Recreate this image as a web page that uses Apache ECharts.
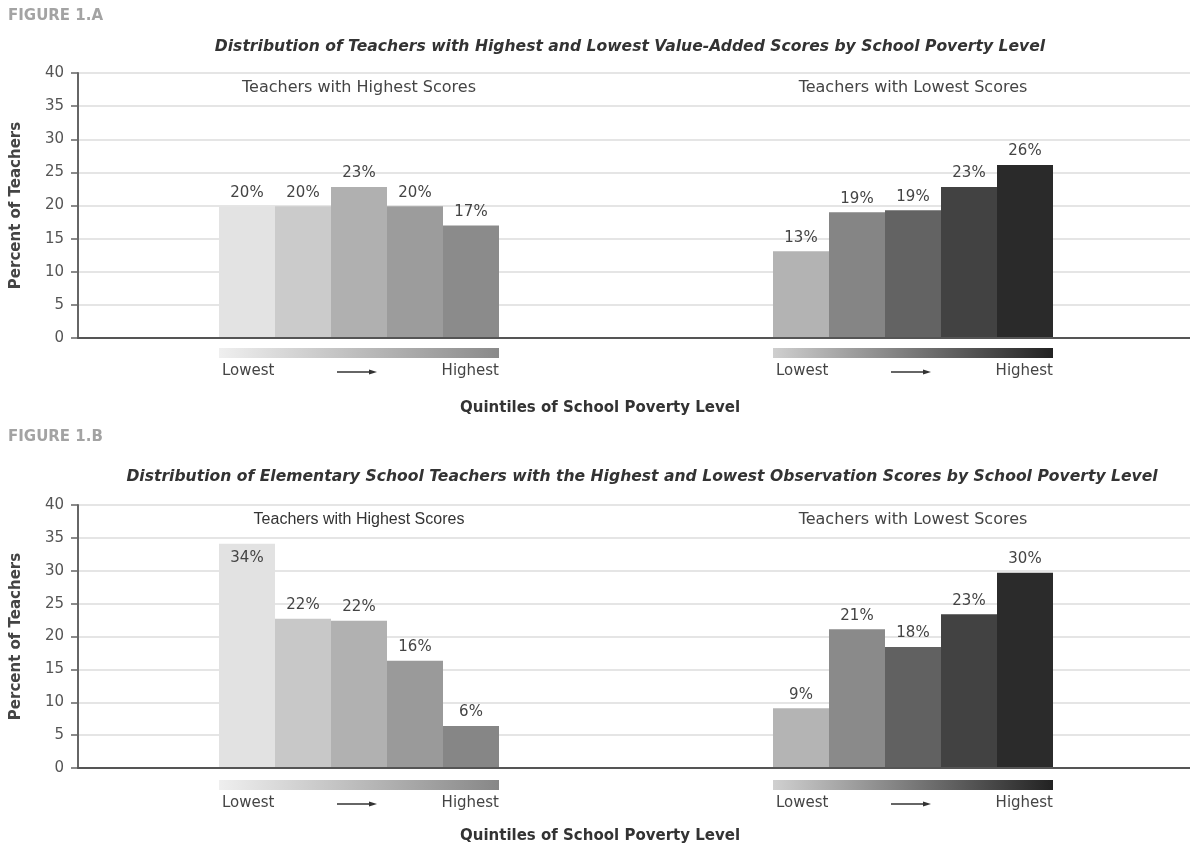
<!DOCTYPE html>
<html>
<head>
<meta charset="utf-8">
<script src="https://cdn.jsdelivr.net/npm/echarts@6/dist/echarts.min.js"></script>
<style>
html,body{margin:0;padding:0;background:#fff;}
#chart{width:1190px;height:846px;}
</style>
</head>
<body>
<div id="chart"></div>
<script>
// ---- data ----
const quintiles = ['Q1 (Lowest)', 'Q2', 'Q3', 'Q4', 'Q5 (Highest)'];
const yTicks = [0, 5, 10, 15, 20, 25, 30, 35, 40];

const aHighValues = [19.9, 19.9, 22.8, 19.9, 17.0];
const aHighLabels = ['20%', '20%', '23%', '20%', '17%'];
const aLowValues = [13.1, 19.0, 19.3, 22.8, 26.1];
const aLowLabels = ['13%', '19%', '19%', '23%', '26%'];

const bHighValues = [34.1, 22.7, 22.4, 16.3, 6.4];
const bHighLabels = ['34%', '22%', '22%', '16%', '6%'];
const bLowValues = [9.1, 21.1, 18.4, 23.4, 29.7];
const bLowLabels = ['9%', '21%', '18%', '23%', '30%'];

const highColorsA = ['#e3e3e3', '#cbcbcb', '#b0b0b0', '#9c9c9c', '#8b8b8b'];
const lowColorsA = ['#b3b3b3', '#858585', '#636363', '#424242', '#2a2a2a'];
const highColorsB = ['#e2e2e2', '#c8c8c8', '#b1b1b1', '#9a9a9a', '#868686'];
const lowColorsB = ['#b4b4b4', '#8a8a8a', '#616161', '#424242', '#2b2b2b'];

// ---- layout ----
const FONT = '"DejaVu Sans", sans-serif';
const AXIS_LEFT = 78;
const HIGH_LEFT = 219, LOW_LEFT = 773, GROUP_W = 280;
const A_TOP = 73, A_H = 265;
const B_TOP = 505, B_H = 263;

const chart = echarts.init(document.getElementById('chart'), null, {renderer: 'canvas'});

function mainY(gridIndex) {
  return {
    gridIndex, type: 'value', min: yTicks[0], max: yTicks[yTicks.length - 1], interval: yTicks[1] - yTicks[0],
    name: 'Percent of Teachers', nameLocation: 'middle', nameGap: 54, nameRotate: 90,
    nameTextStyle: {fontFamily: FONT, fontWeight: 'bold', fontSize: 15, color: '#444'},
    axisLine: {show: true, lineStyle: {color: '#666', width: 2}},
    axisTick: {show: true, length: 7, lineStyle: {color: '#666', width: 1.5}},
    axisLabel: {fontFamily: FONT, fontSize: 15, color: '#555', margin: 14},
    splitLine: {show: true, lineStyle: {color: '#dcdcdc', width: 1.5}}
  };
}
function hiddenY(gridIndex) {
  return {gridIndex, type: 'value', min: 0, max: 40, interval: 5, show: false, splitLine: {show: false}};
}
function mainX(gridIndex) {
  return {
    gridIndex, type: 'category', data: [''],
    axisLine: {show: true, onZero: true, lineStyle: {color: '#555', width: 2}},
    axisTick: {show: false}, axisLabel: {show: false}, splitLine: {show: false}, z: 10
  };
}
function groupX(gridIndex) {
  return {gridIndex, type: 'category', data: quintiles, show: false};
}
function barSeries(axisIndex, values, labels, colors, insideFirst) {
  return {
    type: 'bar', xAxisIndex: axisIndex, yAxisIndex: axisIndex,
    barCategoryGap: '0%', barGap: '0%',
    data: values.map((v, i) => ({
      value: v,
      itemStyle: {color: colors[i]},
      label: (insideFirst && i === 0) ? {position: 'insideTop', distance: 7} : undefined
    })),
    label: {
      show: true, position: 'top', distance: 6,
      fontFamily: FONT, fontSize: 15, color: '#444',
      formatter: p => labels[p.dataIndex]
    },
    emphasis: {disabled: true}
  };
}

function txt(x, y, text, font, fill, align) {
  return {type: 'text', x, y, style: {text, font, fill, align: align || 'left', verticalAlign: 'middle'}};
}

function legendBar(left, y, c0, c1) {
  return [
    {type: 'rect', shape: {x: left, y: y, width: GROUP_W, height: 10},
     style: {fill: new echarts.graphic.LinearGradient(0, 0, 1, 0, [{offset: 0, color: c0}, {offset: 1, color: c1}])}},
    txt(left + 3, y + 23, 'Lowest', '15px ' + FONT, '#444', 'left'),
    txt(left + GROUP_W, y + 23, 'Highest', '15px ' + FONT, '#444', 'right'),
    {type: 'line', shape: {x1: left + 118, y1: y + 24, x2: left + 151, y2: y + 24}, style: {stroke: '#333', lineWidth: 1.3}},
    {type: 'polygon', shape: {points: [[left + 150, y + 21.5], [left + 158, y + 24], [left + 150, y + 26.5]]}, style: {fill: '#333'}}
  ];
}

const graphics = [].concat(
  legendBar(HIGH_LEFT, 348, '#efefef', '#8a8a8a'),
  legendBar(LOW_LEFT, 348, '#cfcfcf', '#222222'),
  legendBar(HIGH_LEFT, 780, '#efefef', '#878787'),
  legendBar(LOW_LEFT, 780, '#d0d0d0', '#222222'),
  [
    txt(8, 16, 'FIGURE 1.A', 'bold 15px ' + FONT, '#a3a3a3', 'left'),
    txt(630, 47, 'Distribution of Teachers with Highest and Lowest Value-Added Scores by School Poverty Level', 'italic bold 15.6px ' + FONT, '#333', 'center'),
    txt(8, 437, 'FIGURE 1.B', 'bold 15px ' + FONT, '#a3a3a3', 'left'),
    txt(642, 477, 'Distribution of Elementary School Teachers with the Highest and Lowest Observation Scores by School Poverty Level', 'italic bold 15.6px ' + FONT, '#333', 'center'),
    txt(HIGH_LEFT + GROUP_W / 2, 88, 'Teachers with Highest Scores', '16px ' + FONT, '#444', 'center'),
    txt(LOW_LEFT + GROUP_W / 2, 88, 'Teachers with Lowest Scores', '16px ' + FONT, '#444', 'center'),
    txt(HIGH_LEFT + GROUP_W / 2, 520, 'Teachers with Highest Scores', '16px "Liberation Sans", sans-serif', '#333', 'center'),
    txt(LOW_LEFT + GROUP_W / 2, 520, 'Teachers with Lowest Scores', '16px ' + FONT, '#444', 'center'),
    txt(600, 408, 'Quintiles of School Poverty Level', 'bold 15px ' + FONT, '#333', 'center'),
    txt(600, 836, 'Quintiles of School Poverty Level', 'bold 15px ' + FONT, '#333', 'center')
  ]
);

const option = {
  backgroundColor: '#ffffff',
  animation: false,
  grid: [
    {left: AXIS_LEFT, right: 0, top: A_TOP, height: A_H},
    {left: HIGH_LEFT, width: GROUP_W, top: A_TOP, height: A_H},
    {left: LOW_LEFT, width: GROUP_W, top: A_TOP, height: A_H},
    {left: AXIS_LEFT, right: 0, top: B_TOP, height: B_H},
    {left: HIGH_LEFT, width: GROUP_W, top: B_TOP, height: B_H},
    {left: LOW_LEFT, width: GROUP_W, top: B_TOP, height: B_H}
  ],
  xAxis: [mainX(0), groupX(1), groupX(2), mainX(3), groupX(4), groupX(5)],
  yAxis: [mainY(0), hiddenY(1), hiddenY(2), mainY(3), hiddenY(4), hiddenY(5)],
  series: [
    barSeries(1, aHighValues, aHighLabels, highColorsA, false),
    barSeries(2, aLowValues, aLowLabels, lowColorsA, false),
    barSeries(4, bHighValues, bHighLabels, highColorsB, true),
    barSeries(5, bLowValues, bLowLabels, lowColorsB, false)
  ],
  graphic: graphics
};
chart.setOption(option);
</script>
</body>
</html>
